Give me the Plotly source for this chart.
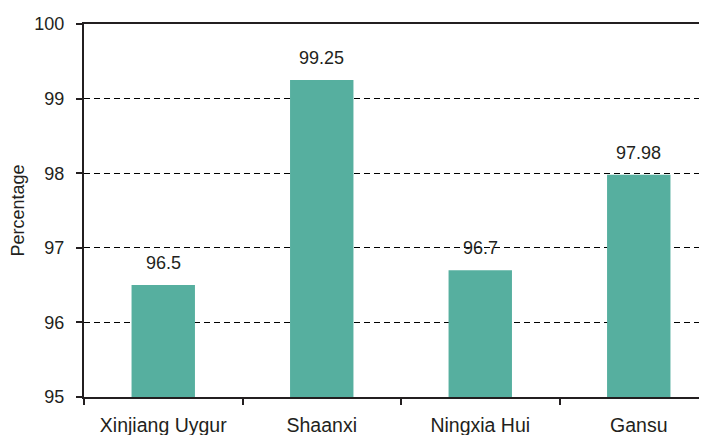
import plotly.graph_objects as go

regions = ["Xinjiang Uygur", "Shaanxi", "Ningxia Hui", "Gansu"]
percentage = [96.5, 99.25, 96.7, 97.98]
value_labels = ["96.5", "99.25", "96.7", "97.98"]
y_ticks = [95, 96, 97, 98, 99, 100]

BAR = "#56af9f"
INK = "#231f20"
FONT = "Liberation Sans, Arial, sans-serif"

fig = go.Figure()
fig.add_trace(go.Bar(x=regions, y=percentage, marker=dict(color=BAR, line=dict(width=0)),
                     width=0.4, showlegend=False))

# value labels above each bar
for r, v, t in zip(regions, percentage, value_labels):
    fig.add_annotation(x=r, y=v, text=t, showarrow=False, yanchor="bottom",
                       yshift=10, font=dict(family=FONT, size=18, color=INK))

# page has an 8px body margin, so margins are shifted to compensate
fig.update_layout(
    width=707, height=435,
    margin=dict(l=76, r=0, t=16, b=46),
    paper_bgcolor="white", plot_bgcolor="white",
    font=dict(family=FONT, size=18, color=INK),
)
fig.update_xaxes(
    range=[-0.5, 3.481], showline=True, linecolor=INK, linewidth=2, mirror=True,
    ticks="outside", ticklen=6, tickwidth=1.5, tickcolor=INK, tickson="boundaries",
    showgrid=False, automargin=False, ticklabelstandoff=10,
    tickfont=dict(size=19.5),
)
fig.update_yaxes(
    range=[95, 100], tickvals=y_ticks, showline=True, linecolor=INK, linewidth=2,
    ticks="outside", ticklen=6, tickwidth=1.5, tickcolor=INK,
    showgrid=True, gridcolor="black", gridwidth=1, griddash="6px,4px",
    zeroline=False, automargin=False, ticklabelstandoff=8,
    title=dict(text="Percentage", font=dict(size=18), standoff=8),
)

fig.write_html("out.html")
